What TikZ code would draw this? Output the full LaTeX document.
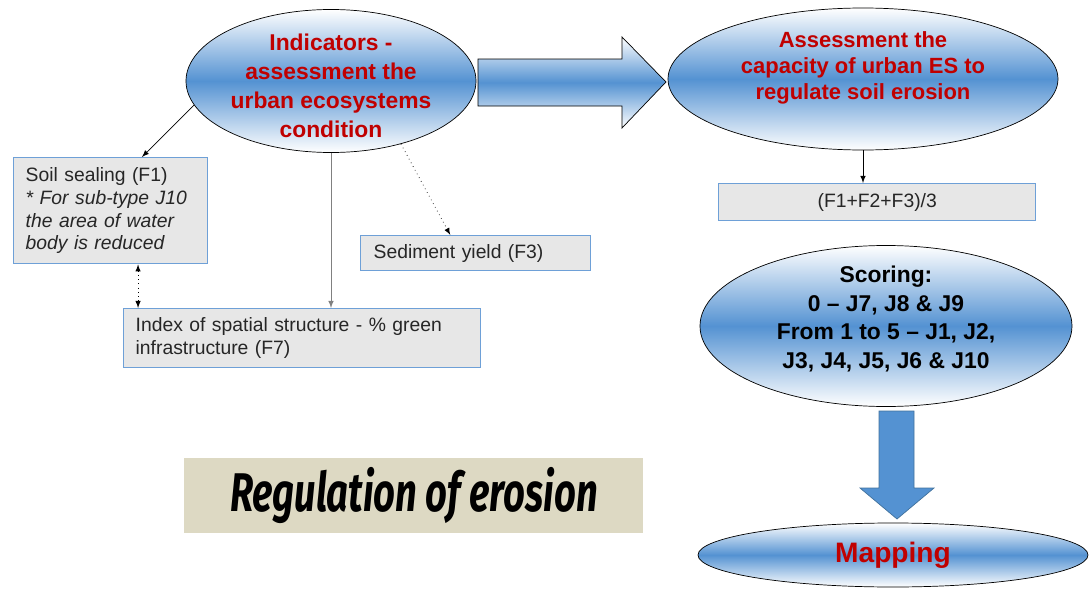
\documentclass[tikz,border=0pt]{standalone}
\usepackage{fontspec}
\setmainfont{Liberation Sans}
\newfontfamily\regfont[FakeStretch=0.7]{Fira Sans}
\usetikzlibrary{calc,shapes.geometric}

\definecolor{esblue}{RGB}{84,146,210}
\definecolor{esred}{RGB}{192,0,0}
\definecolor{boxline}{RGB}{110,160,215}
\definecolor{boxfill}{RGB}{231,231,231}
\definecolor{boxtext}{RGB}{38,38,38}
\definecolor{titlefill}{RGB}{221,217,195}
\definecolor{arrowline}{RGB}{65,113,156}

\tikzset{
  esell/.style={ellipse, draw=black, thin, top color=white, bottom color=white,
    middle color=esblue, inner sep=0pt, align=center},
  indbox/.style={rectangle, draw=boxline, line width=0.8pt, fill=boxfill,
    text=boxtext, align=left, inner xsep=2.4mm, anchor=north west,
    font=\fontsize{11}{13}\selectfont},
  link/.style={-latex, thin},
}

\begin{document}
\begin{tikzpicture}[x=0.2mm,y=-0.2mm]
	\useasboundingbox (0,0) rectangle (1089,591);

	% ellipses
	\node[esell, minimum width=58mm, minimum height=28.6mm,
		label={[text=esred, align=center, yshift=-1mm, font=\bfseries\fontsize{13}{16.4}\selectfont]center:Indicators -\\assessment the\\urban ecosystems\\condition}]
		(ind) at (331,81) {};
	\node[esell, minimum width=78mm, minimum height=28.4mm,
		label={[text=esred, align=center, yshift=2.2mm, font=\bfseries\fontsize{12.5}{14.7}\selectfont]center:Assessment the\\capacity of urban ES to\\regulate soil erosion}]
		(assess) at (863,79) {};
	\node[esell, minimum width=74.4mm, minimum height=32.2mm,
		label={[align=center, yshift=1.4mm, font=\bfseries\fontsize{13}{16.4}\selectfont]center:Scoring:\\0 -- J7, J8 \& J9\\From 1 to 5 -- J1, J2,\\J3, J4, J5, J6 \& J10}]
		(score) at (886,326) {};
	\node[esell, minimum width=78mm, minimum height=12.8mm, text=esred,
		font=\bfseries\fontsize{16}{18}\selectfont] (map) at (893,555) {Mapping};

	% indicator boxes
	\node[indbox, text width=34mm, minimum height=21.2mm] (soil) at (13,157)
		{Soil sealing (F1)\\\textit{* For sub-type J10}\\\textit{the area of water}\\\textit{body is reduced}};
	\node[indbox, text width=40.8mm, inner xsep=2.6mm, minimum height=7mm] (sed) at (360,235)
		{Sediment yield (F3)};
	\node[indbox, text width=66.6mm, minimum height=11.8mm] (idx) at (123,308)
		{Index of spatial structure - \% green\\infrastructure (F7)};
	\node[indbox, text width=58.6mm, minimum height=7.4mm, align=center] (fbox) at (718,183)
		{(F1+F2+F3)/3};

	\node[fill=titlefill, anchor=north west, minimum width=91.8mm, minimum height=15mm] (title) at (184,458)
		{\regfont\bfseries\itshape\fontsize{31}{32}\selectfont Regulation of erosion};

	% connectors
	\draw[link] (ind.190) -- ($(soil.north west)!0.66!(soil.north east)$);
	\draw[link, gray] (ind.south) -- (ind.south |- idx.north);
	\draw[link, dotted] (ind.-42) -- ($(sed.north west)!0.39!(sed.north east)$);
	\coordinate (s1) at ($(soil.south west)!0.64!(soil.south east)$);
	\draw[latex-latex, dotted] (s1) -- (s1 |- idx.north);
	\draw[link] (assess.south) -- (assess.south |- fbox.north);

	% block arrows
	\draw[thin, top color=white, bottom color=white, middle color=esblue]
		(478,59) -- (622,59) -- (622,37) -- (666,82) -- (622,128) -- (622,106) -- (478,106) -- cycle;
	\draw[arrowline, fill=esblue]
		(879,411) -- (914,411) -- (914,488) -- (934,488) -- (897,519) -- (860,488) -- (879,488) -- cycle;
\end{tikzpicture}
\end{document}
